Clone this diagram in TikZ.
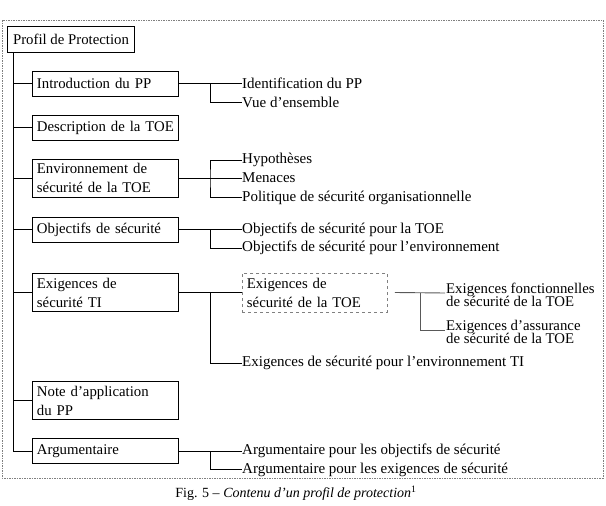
\documentclass[tikz,border=0pt]{standalone}
\usepackage{fontspec}
\setmainfont{Liberation Serif}

\begin{document}
\begin{tikzpicture}[x=1pt,y=-1pt,
  font=\fontsize{15}{16}\selectfont,
  link/.style={line width=0.9pt},
  box/.style={draw,line width=0.9pt,anchor=west,align=left,text width=137pt,
    inner xsep=4.5pt,minimum height=25pt,font=\fontsize{14.8}{16}\selectfont},
  tall/.style={box,minimum height=38pt,font=\fontsize{14.8}{19}\selectfont},
  leaf/.style={anchor=west,inner sep=0pt},
  pair/.style={anchor=base west,inner sep=0pt,align=left,
    font=\fontsize{14.8}{13.5}\selectfont}]
  \useasboundingbox (0,0) rectangle (606,506);
  \draw[gray,dash pattern=on 1.5pt off 1pt] (2,20) rectangle (603,478);

  \node[draw,line width=1pt,anchor=west,inner xsep=5.5pt,minimum height=26pt,
    minimum width=127pt,font=\fontsize{14.8}{16}\selectfont] (pp) at (7,39) {Profil de Protection};
  \node[box] (intro) at (32,83.5) {Introduction du PP};
  \node[box] (desc) at (32,127.5) {Description de la TOE};
  \node[tall] (env) at (32,178) {Environnement de\\sécurité de la TOE};
  \node[box] (obj) at (32,229.5) {Objectifs de sécurité};
  \node[tall] (exig) at (32,292.5) {Exigences de\\sécurité TI};
  \node[tall] (note) at (32,400.5) {Note d’application\\du PP};
  \node[box] (arg) at (32,451) {Argumentaire};

  \coordinate (tend) at (13,451);
  \draw[link] (pp.south -| tend) -- (tend) -- (arg.west);
  \foreach \n in {intro,desc,env,obj,exig,note}
    \draw[link] (\n.west -| tend) -- (\n.west);

  \node[leaf] (ident) at (242,83.5) {Identification du PP};
  \node[leaf] (vue) at (242,102) {Vue d’ensemble};
  \coordinate (jintro) at (210,83.5);
  \draw[link] (intro.east) -- (ident.west);
  \draw[link] (jintro) |- (vue.west);

  \node[leaf] (hyp) at (242,160) {Hypothèses};
  \node[leaf] (men) at (242,178) {Menaces};
  \node[leaf] (pol) at (242,197.5) {Politique de sécurité organisationnelle};
  \coordinate (jenv) at (210,178);
  \draw[link] (env.east) -- (men.west);
  \draw[link] (hyp.west) -| (jenv) |- (pol.west);

  \node[leaf] (objtoe) at (242,229.5) {Objectifs de sécurité pour la TOE};
  \node[leaf] (objenv) at (242,248) {Objectifs de sécurité pour l’environnement};
  \coordinate (jobj) at (210,229.5);
  \draw[link] (obj.east) -- (objtoe.west);
  \draw[link] (jobj) |- (objenv.west);

  \node[box,gray,dashed,text=black,font=\fontsize{14.8}{19}\selectfont,
    text width=136pt,minimum height=39pt] (toe) at (242,292.5) {Exigences de\\sécurité de la TOE};
  \node[leaf] (envti) at (242,363) {Exigences de sécurité pour l’environnement TI};
  \coordinate (jexig) at (210,292.5);
  \draw[link] (exig.east) -- (toe.west);
  \draw[link] (jexig) |- (envti.west);

  \coordinate (cfonc) at (445,293);
  \coordinate (cassur) at (445,330);
  \node[pair,xshift=1pt,yshift=-13.5pt] (fonc) at (cfonc) {Exigences fonctionnelles\\de sécurité de la TOE};
  \node[pair,xshift=1pt,yshift=-13.5pt] (assur) at (cassur) {Exigences d’assurance\\de sécurité de la TOE};
  \coordinate (jtoe) at (420,293);
  \draw[link,gray!70!black] (toe.east) ++(7,0) -- (cfonc);
  \draw[link,gray!70!black] (jtoe) |- (cassur);

  \node[leaf] (argobj) at (242,451) {Argumentaire pour les objectifs de sécurité};
  \node[leaf] (argexi) at (242,469.5) {Argumentaire pour les exigences de sécurité};
  \coordinate (jarg) at (210,451);
  \draw[link] (arg.east) -- (argobj.west);
  \draw[link] (jarg) |- (argexi.west);

  \node[font=\fontsize{14}{16}\selectfont] (cap) at (296,493) {Fig. 5 -- \textit{Contenu d’un profil de protection}\textsuperscript{1}};
\end{tikzpicture}
\end{document}
